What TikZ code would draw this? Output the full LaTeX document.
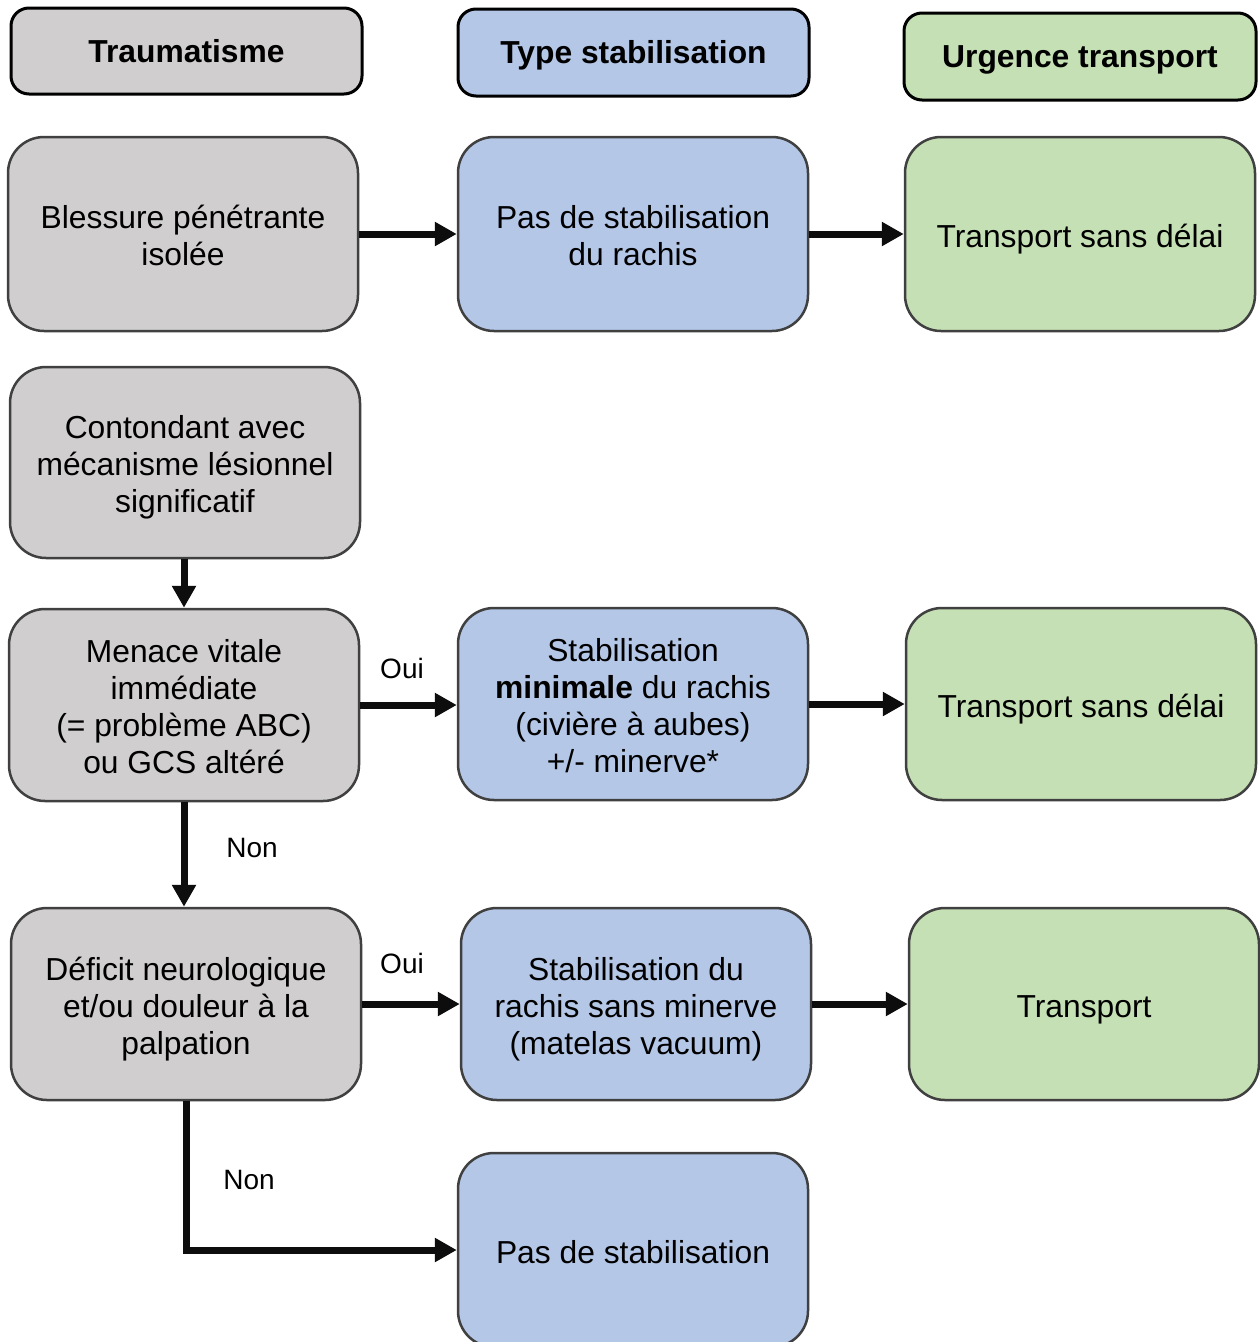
\documentclass[tikz,border=0pt]{standalone}
\usepackage{fontspec}
\setmainfont{Liberation Sans}
\usetikzlibrary{arrows.meta}
\definecolor{cgray}{HTML}{D0CECE}
\definecolor{cblue}{HTML}{B4C7E7}
\definecolor{cgreen}{HTML}{C5E0B4}
\definecolor{cedge}{HTML}{404040}
\newcommand\bxs{\rule{0pt}{36pt}}
\tikzset{
  hdr/.style={draw=black, line width=3pt, rounded corners=18pt, inner sep=0pt,
    minimum width=350pt, minimum height=86pt, align=center,
    font=\fontsize{31.8}{37}\selectfont\bfseries,
    execute at begin node={\rule{0pt}{30pt}},
    execute at end node={\rule[-7.2pt]{0pt}{7.2pt}}},
  bx/.style={draw=cedge, line width=2.5pt, rounded corners=36pt, inner sep=0pt,
    minimum width=350pt, minimum height=192pt, align=center,
    font=\fontsize{31.8}{37}\selectfont,
    execute at end node={\rule[-9.2pt]{0pt}{9.2pt}}},
  gbox/.style={bx, fill=cgray},
  bbox/.style={bx, fill=cblue},
  grbox/.style={bx, fill=cgreen},
  arr/.style={line width=7pt, draw=black!95, -{Triangle[length=22pt,width=23pt]}},
  lbl/.style={inner sep=0pt, font=\fontsize{28}{32}\selectfont}
}
\begin{document}
\begin{tikzpicture}[x=1pt,y=-1pt]
\useasboundingbox (0,0) rectangle (1260,1342);
\clip (0,0) rectangle (1260,1342);
\fill[white] (0,0) rectangle (1260,1342);
% headers
\node[hdr, fill=cgray, minimum width=351pt] (h1) at (186.5,51) {Traumatisme};
\node[hdr, fill=cblue, minimum width=351pt, minimum height=87pt] (h2) at (633.5,52.5) {Type stabilisation};
\node[hdr, fill=cgreen, minimum width=352pt, minimum height=87pt] (h3) at (1080,56.5) {Urgence transport};
% row 1
\node[gbox, minimum height=194pt] (b1) at (183,234) {\bxs Blessure pénétrante\\isolée};
\node[bbox, minimum height=194pt] (s1) at (633,234) {\bxs Pas de stabilisation\\du rachis};
\node[grbox, minimum height=194pt] (t1) at (1080,234) {\bxs Transport sans délai};
% row 2
\node[gbox, minimum height=191pt] (c) at (185,462.5) {\bxs Contondant avec\\mécanisme lésionnel\\significatif};
% row 3
\node[gbox] (m) at (184,705) {\bxs Menace vitale\\immédiate\\(= problème ABC)\\ou GCS altéré};
\node[bbox] (s2) at (633,704) {\bxs Stabilisation\\\textbf{minimale} du rachis\\(civière à aubes)\\+/- minerve*};
\node[grbox] (t2) at (1081,704) {\bxs Transport sans délai};
% row 4
\node[gbox] (d) at (186,1004) {\bxs Déficit neurologique\\et/ou douleur à la\\palpation};
\node[bbox] (s3) at (636,1004) {\bxs Stabilisation du\\rachis sans minerve\\(matelas vacuum)};
\node[grbox] (t3) at (1084,1004) {\bxs Transport};
% row 5
\node[bbox, minimum height=194pt] (s4) at (633,1250) {\bxs Pas de stabilisation};
% connectors
\draw[arr] (b1) -- (s1);
\draw[arr] (s1) -- (t1);
\draw[arr] (m.north |- c.south) -- (m.north);
\draw[arr] (m.east) -- (s2.west |- m.east);
\draw[arr] (s2) -- (t2);
\draw[arr] (m.south) -- (m.south |- d.north);
\draw[arr] (d.east) -- (s3.west);
\draw[arr] (s3) -- (t3);
\draw[arr] (d.south) |- (s4.west);
% labels
\node[lbl] (l1) at (402,668) {Oui};
\node[lbl] (l2) at (252,848) {Non};
\node[lbl] (l3) at (402,963) {Oui};
\node[lbl] (l4) at (249,1180) {Non};
\end{tikzpicture}
\end{document}
